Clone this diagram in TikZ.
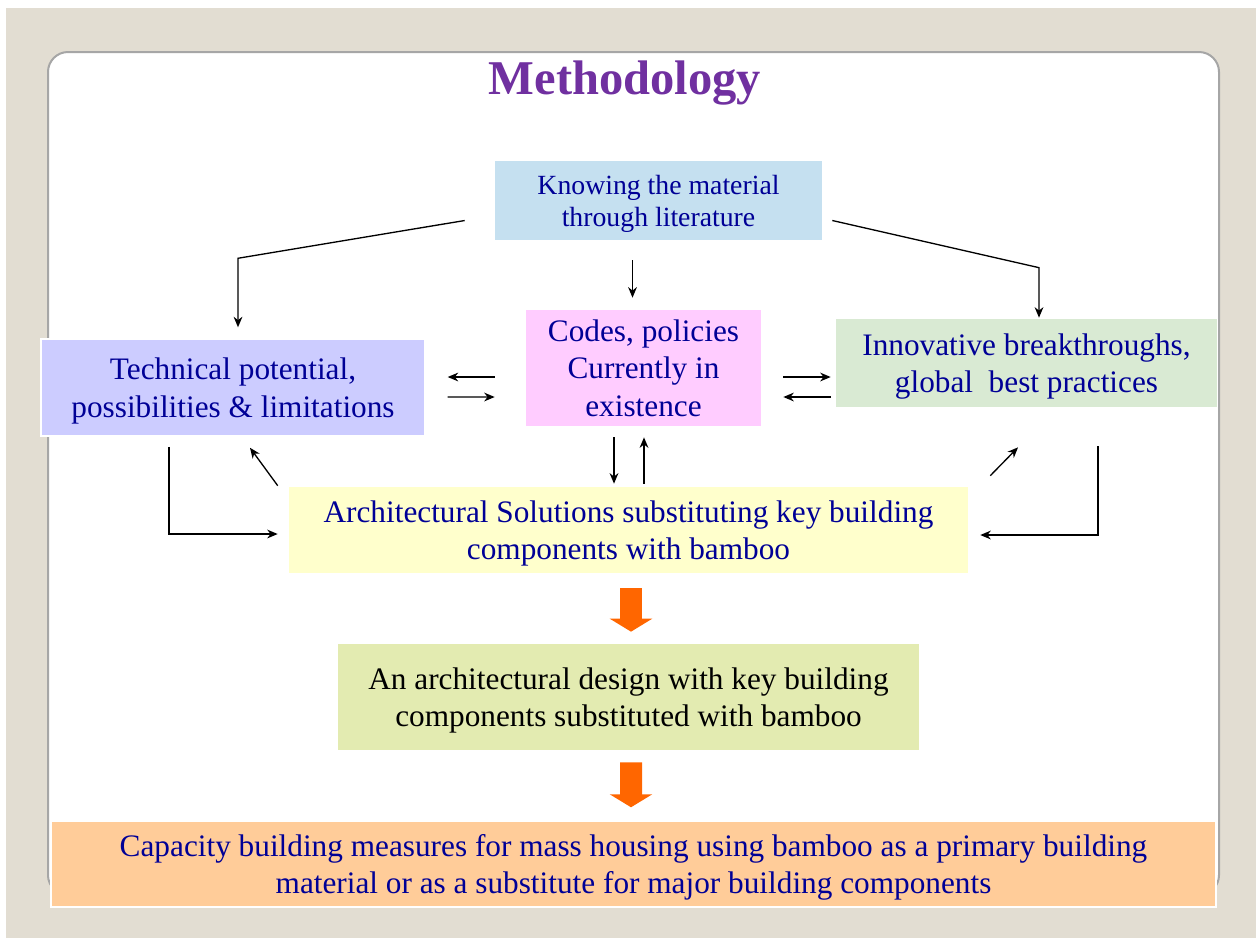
\documentclass[tikz,border=0pt]{standalone}
\usepackage{fontspec}
\setmainfont{Liberation Serif}
\usetikzlibrary{calc}
\usetikzlibrary{arrows}
\usetikzlibrary{arrows.meta}
\usepackage{xcolor}
\definecolor{beige}{RGB}{226,221,210}
\definecolor{txtblue}{RGB}{0,0,150}
\definecolor{titlepurple}{RGB}{112,48,160}
\definecolor{litblue}{RGB}{197,224,240}
\definecolor{techlav}{RGB}{204,204,255}
\definecolor{codespink}{RGB}{255,204,255}
\definecolor{innovgreen}{RGB}{217,234,211}
\definecolor{archyellow}{RGB}{255,255,204}
\definecolor{designgreen}{RGB}{227,235,177}
\definecolor{caporange}{RGB}{255,204,153}
\definecolor{arroworange}{RGB}{255,102,0}

\tikzset{box/.style={align=center, text=txtblue, inner sep=0, text depth=-4pt, font=\fontsize{17.8}{21.3}\selectfont}}
\tikzset{link/.style={black, line width=0.75pt, ->, >={Stealth[length=6pt,width=5pt]}}}
\tikzset{bigarrow/.style={arroworange, line width=0.44cm, -{Triangle[length=0.26cm,width=0.84cm]}}}

\begin{document}
\begin{tikzpicture}[x=0.02cm,y=-0.02cm]
\useasboundingbox (0,0) rectangle (1256,938);
\fill[white] (0,0) rectangle (1256,938);
\fill[beige] (6,8) rectangle (1256,938);
\draw[gray!70, fill=white, line width=0.04cm, rounded corners=0.4cm] (48,52) rectangle (1219,895);
\node[font=\fontsize{27.6}{32}\selectfont\bfseries, text=titlepurple] (title) at (625,83) {Methodology};

% boxes
\node[box, fill=litblue, minimum width=6.54cm, minimum height=1.58cm, font=\fontsize{15.8}{18.2}\selectfont] (lit) at (658.5,200.5) {Knowing the material\\through literature};
\node[box, fill=techlav, draw=white, line width=0.03cm, minimum width=7.68cm, minimum height=1.94cm] (tech) at (233,387.5) {Technical potential,\\possibilities \& limitations};
\node[box, fill=codespink, minimum width=4.7cm, minimum height=2.32cm] (codes) at (643.5,368) {Codes, policies\\Currently in\\existence};
\node[box, fill=innovgreen, minimum width=7.62cm, minimum height=1.76cm] (innov) at (1026.5,363) {Innovative breakthroughs,\\global~ best practices};
\node[box, fill=archyellow, minimum width=13.58cm, minimum height=1.72cm] (arch) at (628.5,530) {Architectural Solutions substituting key building\\components with bamboo};
\node[box, fill=designgreen, text=black, minimum width=11.62cm, minimum height=2.12cm] (design) at (628.5,697) {An architectural design with key building\\components substituted with bamboo};
\node[box, fill=caporange, draw=white, line width=0.03cm, minimum width=23.3cm, minimum height=1.72cm] (cap) at (633.5,864) {Capacity building measures for mass housing using bamboo as a primary building\\material or as a substitute for major building components};

% from the literature
\draw[link] ($(lit.west)+(-30,20)$) -- ($(tech.north)+(5,-80)$) -- ($(tech.north)+(5,-11)$);
\draw[link] ($(lit.south)+(-26,20)$) -- ($(codes.north)+(-11,-12)$);
\draw[link] ($(lit.east)+(10,20)$) -- ($(innov.north)+(12.5,-51)$) -- ($(innov.north)+(12.5,-1)$);

% side pairs
\draw[link] ($(codes.west)+(-31,9)$) -- ($(tech.east)+(22,-10.5)$);
\draw[link] ($(tech.east)+(22,9.5)$) -- ($(codes.west)+(-31,29)$);
\draw[link] ($(codes.east)+(22,9)$) -- ($(innov.west)+(-5,14)$);
\draw[link] ($(innov.west)+(-5,34)$) -- ($(codes.east)+(22,29)$);
\draw[link] ($(codes.south)+(-29.5,11)$) -- ($(arch.north)+(-14.5,-3)$);
\draw[link] ($(arch.north)+(15.5,-3)$) -- ($(codes.south)+(0.5,11)$);

% loops round the solutions
\draw[link] ($(tech.south)+(-64,10)$) |- ($(arch.west)+(-11,4)$);
\draw[link] ($(arch.north west)+(-11,-1)$) -- ($(tech.south)+(17,11)$);
\draw[link] ($(arch.north east)+(22,-11)$) -- ($(innov.south)+(-8.5,40)$);
\draw[link] ($(innov.south)+(71.5,39)$) |- ($(arch.east)+(12,5)$);

% orange block arrows
\draw[bigarrow] ($(arch.south)+(2.5,15)$) -- ($(design.north)+(2.5,-12)$);
\draw[bigarrow] ($(design.south)+(2.5,12)$) -- ($(cap.north)+(-2.5,-13)$);
\end{tikzpicture}
\end{document}
